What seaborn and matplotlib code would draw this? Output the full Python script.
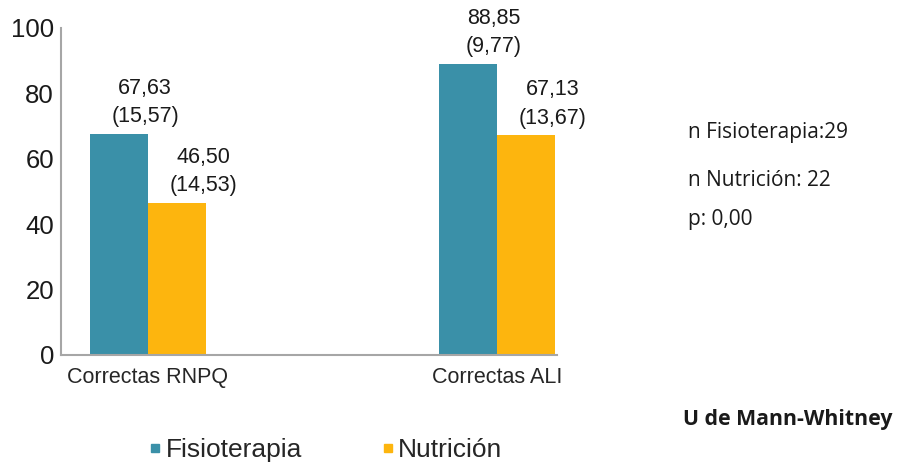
import matplotlib
matplotlib.use("Agg")
import matplotlib.pyplot as plt
from matplotlib.lines import Line2D
import seaborn as sb
import pandas as pd

categories = ["Correctas RNPQ", "Correctas ALI"]
groups = ["Fisioterapia", "Nutrición"]
fisio_mean = [67.63, 88.85]
fisio_sd = [15.57, 9.77]
nutri_mean = [46.50, 67.13]
nutri_sd = [14.53, 13.67]
side_notes = ["n Fisioterapia:29", "n Nutrición: 22", "p: 0,00"]
test_name = "U de Mann-Whitney"

colors = ["#3A90A8", "#FDB50E"]

df = pd.DataFrame({
    "cat": categories * 2,
    "grupo": [groups[0]] * 2 + [groups[1]] * 2,
    "media": fisio_mean + nutri_mean,
    "sd": fisio_sd + nutri_sd,
})

sb.set_style("white")
plt.rcParams["font.family"] = ["Liberation Sans", "DejaVu Sans"]

fig = plt.figure(figsize=(8.99, 4.71), dpi=100)
ax = fig.add_axes([0.0679, 0.2463, 0.5517, 0.6943])

sb.barplot(data=df, x="cat", y="media", hue="grupo", palette=colors,
           width=0.333, ax=ax, legend=False, saturation=1, errorbar=None,
           linewidth=0)

ax.set_xlim(-0.249, 1.172)
ax.set_ylim(0, 100)
ax.set_yticks(range(0, 101, 20))
ax.set_xlabel("")
ax.set_ylabel("")
ax.tick_params(axis="y", labelsize=18.5, length=0, pad=5, labelcolor="#1a1a1a")
ax.tick_params(axis="x", labelsize=15.5, length=0, pad=9, labelcolor="#262626")
for s in ["top", "right"]:
    ax.spines[s].set_visible(False)
for s in ["left", "bottom"]:
    ax.spines[s].set_color("#a6a6a6")
    ax.spines[s].set_linewidth(1.5)

# value labels: mean and (sd)
bw = 0.333 / 2
for i in range(len(categories)):
    for j, (m, sd) in enumerate([(fisio_mean[i], fisio_sd[i]), (nutri_mean[i], nutri_sd[i])]):
        xc = i + (j - 0.5) * bw + bw * 0.45
        txt = f"{m:.2f}".replace(".", ",") + "\n(" + f"{sd:.2f}".replace(".", ",") + ")"
        ax.annotate(txt, (xc, m), xytext=(0, 5), textcoords="offset points",
                    ha="center", va="bottom", fontsize=15.5, color="#1a1a1a",
                    linespacing=1.45)

handles = [Line2D([], [], marker="s", linestyle="", markersize=5.5, color=c) for c in colors]
fig.legend(handles, groups, loc="center left", bbox_to_anchor=(0.168, 1 - 450 / 471),
           ncol=2, frameon=False, fontsize=19, handlelength=0.3, handletextpad=0.25,
           columnspacing=3.1, borderpad=0, borderaxespad=0)

for k, (t, yy) in enumerate(zip(side_notes, [133, 180, 220])):
    fig.text(688 / 899, 1 - yy / 471, t, fontsize=15, family=["Open Sans", "DejaVu Sans"],
             color="#1a1a1a", ha="left", va="center")
fig.text(683 / 899, 1 - 420 / 471, test_name, fontsize=15.3, fontweight="bold",
         family=["Open Sans", "DejaVu Sans"], color="#1a1a1a", ha="left", va="center")

fig.savefig("out.png", dpi=100, facecolor="white")
